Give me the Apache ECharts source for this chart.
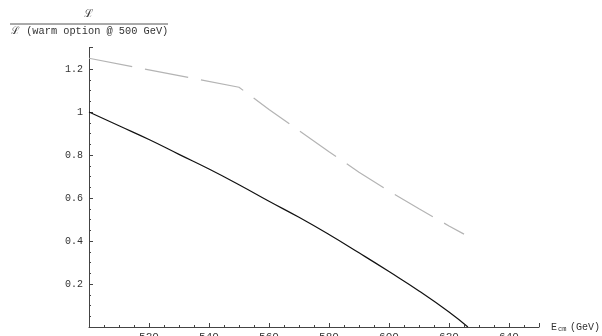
<!DOCTYPE html>
<html>
<head>
<meta charset="utf-8">
<script src="https://cdn.jsdelivr.net/npm/echarts@6/dist/echarts.min.js"></script>
<style>html,body{margin:0;padding:0;background:#fff;}#c{width:602px;height:336px;}</style>
</head>
<body>
<div id="c"></div>
<script>
// Energy (GeV)
const solidX = [500, 510, 520, 530, 540, 550, 560, 570, 580, 590, 600, 610, 620, 626.3];
// Luminosity ratio, solid curve
const solidY = [1.000, 0.936, 0.872, 0.803, 0.735, 0.662, 0.585, 0.510, 0.430, 0.345, 0.258, 0.168, 0.070, 0.0];
// Dashed (gray) curve
const dashX = [500, 550, 560, 570, 580, 590, 600, 610, 620, 625];
const dashY = [1.25, 1.115, 1.012, 0.913, 0.815, 0.720, 0.632, 0.550, 0.470, 0.432];

const yTitleTop = 'ℒ';
const yTitleBottom = 'ℒ (warm option @ 500 GeV)';
const xTitleMain = 'E';
const xTitleSub = 'cm';
const xTitleUnit = '(GeV)';

const font = '"Liberation Mono", "DejaVu Sans Mono", monospace';
const chart = echarts.init(document.getElementById('c'));
const pairs = (xs, ys) => xs.map((x, i) => [x, ys[i]]);

chart.setOption({
  animation: false,
  backgroundColor: '#fff',
  grid: { left: 89, right: 63, top: 47.5, bottom: 9, containLabel: false, outerBoundsMode: 'none' },
  xAxis: {
    type: 'value', min: 500, max: 650, interval: 20,
    axisLine: { show: true, lineStyle: { color: '#444', width: 1 } },
    axisTick: { show: true, inside: true, length: 4, lineStyle: { color: '#444' } },
    minorTick: { show: true, splitNumber: 4, length: 2, lineStyle: { color: '#444' } },
    splitLine: { show: false },
    axisLabel: { showMinLabel: false, showMaxLabel: false, margin: 5, fontFamily: font, fontSize: 11, color: '#333' }
  },
  yAxis: {
    type: 'value', min: 0, max: 1.3, interval: 0.2,
    axisLine: { show: true, lineStyle: { color: '#444', width: 1 } },
    axisTick: { show: true, inside: true, length: 4, lineStyle: { color: '#444' } },
    minorTick: { show: true, splitNumber: 4, length: 2, lineStyle: { color: '#444' } },
    splitLine: { show: false },
    axisLabel: {
      showMinLabel: false, showMaxLabel: false, margin: 6, fontFamily: font, fontSize: 10, color: '#333',
      formatter: v => (Math.abs(v - 1) < 1e-9 ? '1' : v.toFixed(1))
    }
  },
  series: [
    {
      type: 'line', data: pairs(dashX, dashY), showSymbol: false, smooth: false,
      lineStyle: { color: '#b4b4b4', width: 1.2, type: [44, 13] }, silent: true
    },
    {
      type: 'line', data: pairs(solidX, solidY), showSymbol: false, smooth: true,
      lineStyle: { color: '#111', width: 1.2 }, silent: true
    }
  ],
  graphic: [
    { type: 'text', left: 84, top: 9, style: { text: yTitleTop, font: '11px ' + font, fill: '#333' } },
    { type: 'line', shape: { x1: 10, y1: 24, x2: 168, y2: 24 }, style: { stroke: '#555', lineWidth: 1 } },
    { type: 'text', left: 11, top: 26, style: { text: yTitleBottom, font: '10.3px ' + font, fill: '#333' } },
    { type: 'text', left: 551, top: 322, style: { text: xTitleMain, font: '10px ' + font, fill: '#333' } },
    { type: 'text', left: 558, top: 326, style: { text: xTitleSub, font: '7px ' + font, fill: '#333' } },
    { type: 'text', left: 570, top: 322, style: { text: xTitleUnit, font: '10px ' + font, fill: '#333' } }
  ]
});
</script>
</body>
</html>
